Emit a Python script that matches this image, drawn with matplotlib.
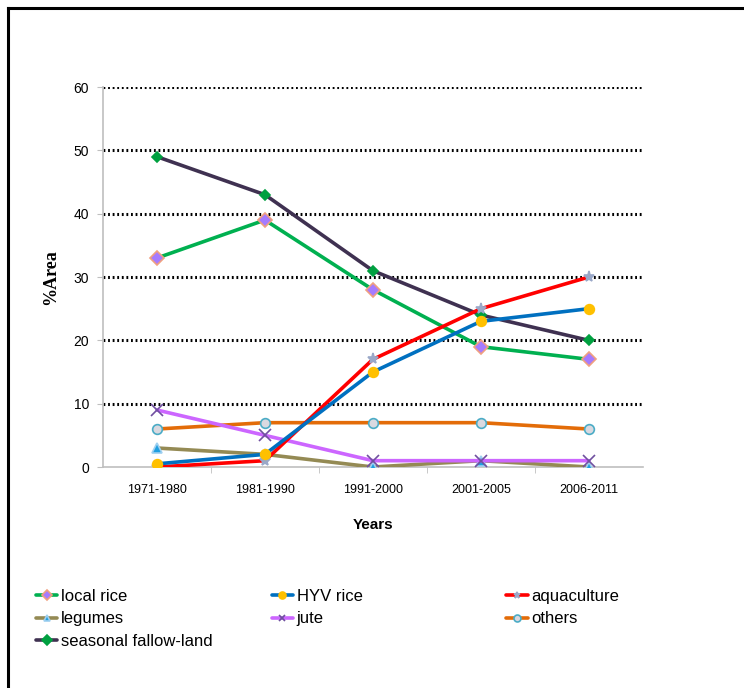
import matplotlib.pyplot as plt
from matplotlib.lines import Line2D

years = ["1971-1980", "1981-1990", "1991-2000", "2001-2005", "2006-2011"]

local_rice = [33, 39, 28, 19, 17]
hyv_rice = [0.5, 2, 15, 23, 25]
aquaculture = [0, 1, 17, 25, 30]
legumes = [3, 2, 0, 1, 0]
jute = [9, 5, 1, 1, 1]
others = [6, 7, 7, 7, 6]
seasonal_fallow = [49, 43, 31, 24, 20]

plt.rcParams['font.family'] = ['Liberation Sans', 'DejaVu Sans']

fig = plt.figure(figsize=(7.44, 6.88), dpi=100)
ax = fig.add_axes([0.1384, 0.3212, 0.7256, 0.5523])

x = list(range(len(years)))

# (label, values, line colour, marker, marker face, marker edge, marker size)
series = [
    ("seasonal fallow-land", seasonal_fallow, "#3f3151", "D", "#00a040", "#00a040", 5),
    ("local rice", local_rice, "#00b050", "D", "#a57bff", "#f0a080", 7),
    ("others", others, "#e36c09", "o", "#d9d9e0", "#4bacc6", 7),
    ("legumes", legumes, "#948a54", "^", "#1f9fe0", "#9fd0f0", 7),
    ("jute", jute, "#cc66ff", "x", "#7050a0", "#7050a0", 8),
    ("aquaculture", aquaculture, "#ff0000", "*", "#9aa8c8", "#9aa8c8", 8),
    ("HYV rice", hyv_rice, "#0070c0", "o", "#ffc000", "#ffc000", 7),
]

handles = {}
for label, vals, color, mk, mfc, mec, ms in series:
    ln, = ax.plot(x, vals, color=color, lw=2.6, marker=mk, markerfacecolor=mfc,
                  markeredgecolor=mec, markersize=ms, markeredgewidth=1.2,
                  label=label, solid_capstyle="round", zorder=3)
    handles[label] = ln

ax.set_xlim(-0.5, 4.5)
ax.set_ylim(0, 60)
ax.set_yticks(range(0, 61, 10))
ax.set_xticks(x)
ax.set_xticklabels(years, fontsize=9)
ax.tick_params(axis='x', length=0, pad=12)
ax.set_xticks([0.5, 1.5, 2.5, 3.5], minor=True)
ax.tick_params(axis='x', which='minor', length=4, color="#bfbfbf", direction='out')
ax.tick_params(axis='y', labelsize=10, length=4, color="#bfbfbf", pad=6)

for yv in range(10, 61, 10):
    ax.axhline(yv, color="black", lw=2.2, ls=(0, (0.6, 0.9)), zorder=1)

for s in ["top", "right"]:
    ax.spines[s].set_visible(False)
for s in ["left", "bottom"]:
    ax.spines[s].set_color("#bfbfbf")
    ax.spines[s].set_linewidth(1.2)

ax.set_xlabel("Years", fontsize=11, fontweight="bold", labelpad=16)
ax.set_ylabel("%Area", fontsize=13, fontweight="bold", family="Liberation Serif", labelpad=10)

# legend: three columns placed by hand
cols = [
    (["local rice", "legumes", "seasonal fallow-land"], 0.048),
    (["HYV rice", "jute"], 0.365),
    (["aquaculture", "others"], 0.680),
]
for labels, xpos in cols:
    leg = fig.legend([handles[l] for l in labels], labels, loc="upper left",
                     bbox_to_anchor=(xpos, 0.144), frameon=False, fontsize=12,
                     handlelength=1.3, handletextpad=0.2, labelspacing=0.45,
                     borderaxespad=0, borderpad=0)
    for h in leg.legend_handles:
        h.set_markersize(5)

# outer border (only top and left are visible in the frame)
fig.add_artist(Line2D([0.011, 1.0], [0.989, 0.989], color="black", lw=2.2))
fig.add_artist(Line2D([0.011, 0.011], [0.0, 0.989], color="black", lw=2.2))

fig.savefig("out.png", dpi=100)
